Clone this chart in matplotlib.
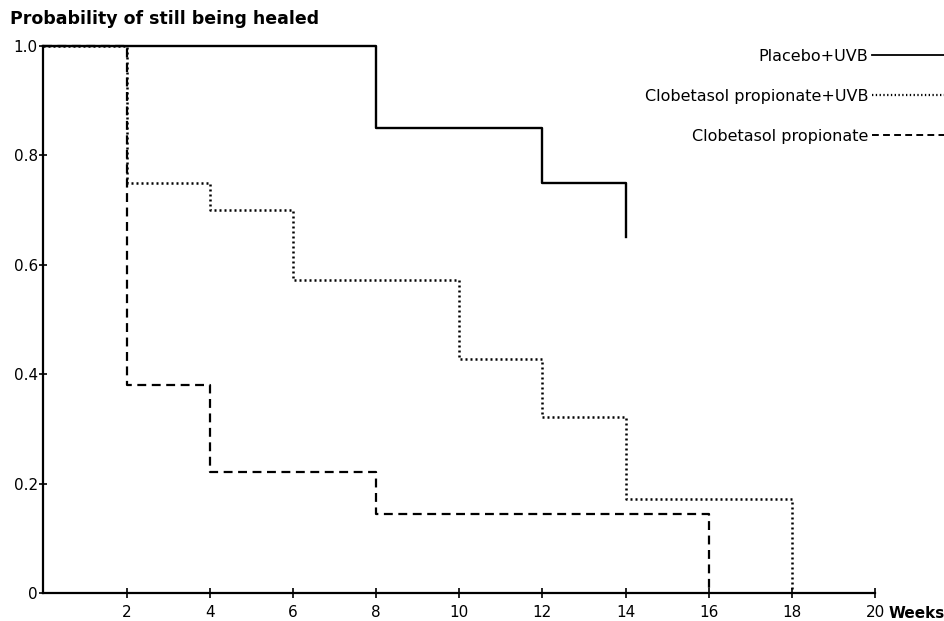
import matplotlib
matplotlib.use("Agg")
import matplotlib.pyplot as plt
from matplotlib.lines import Line2D

# Kaplan-Meier style steps
weeks_placebo = [0, 8, 12, 14]
healed_placebo = [1.0, 0.85, 0.75, 0.65]

weeks_clob_uvb = [0, 2, 4, 6, 10, 12, 14, 18]
healed_clob_uvb = [1.0, 0.75, 0.70, 0.572, 0.428, 0.322, 0.172, 0.0]

weeks_clob = [0, 2, 4, 8, 16]
healed_clob = [1.0, 0.38, 0.221, 0.145, 0.0]

series_labels = ["Placebo+UVB", "Clobetasol propionate+UVB", "Clobetasol propionate"]
x_ticks = [2, 4, 6, 8, 10, 12, 14, 16, 18, 20]
y_ticks = [0, 0.2, 0.4, 0.6, 0.8, 1.0]
y_tick_labels = ["0", "0.2", "0.4", "0.6", "0.8", "1.0"]

plt.rcParams["font.family"] = "DejaVu Sans"

fig = plt.figure(figsize=(9.45, 6.21), dpi=100)
ax = fig.add_axes([0.046, 0.045, 0.880, 0.881])

ax.step(weeks_placebo, healed_placebo, where="post", color="black",
        linewidth=1.7, clip_on=False, zorder=3)
ax.step(weeks_clob_uvb, healed_clob_uvb, where="post", color="black",
        linewidth=1.8, linestyle=(0, (0.8, 1.2)), clip_on=False)
ax.step(weeks_clob, healed_clob, where="post", color="black",
        linewidth=1.6, linestyle=(0, (4, 2.5)), clip_on=False)

ax.set_xlim(0, 20)
ax.set_ylim(0, 1.0)
ax.set_xticks(x_ticks)
ax.set_yticks(y_ticks)
ax.set_yticklabels(y_tick_labels)

for side in ["top", "right"]:
    ax.spines[side].set_visible(False)
for side in ["left", "bottom"]:
    ax.spines[side].set_linewidth(1.6)

ax.tick_params(axis="x", direction="inout", length=7, width=1.2, pad=5, labelsize=11)
ax.tick_params(axis="y", direction="inout", length=6, width=1.2, pad=1, labelsize=11)

fig.text(10 / 945, 1 - 19 / 621, "Probability of still being healed",
         fontsize=12.5, fontweight="bold", va="center", ha="left")
fig.text(889 / 945, 1 - 613 / 621, "Weeks", fontsize=11, fontweight="bold",
         va="center", ha="left")

handles = [Line2D([], [], color="black", linewidth=1.3),
           Line2D([], [], color="black", linewidth=1.6, linestyle=(0, (0.6, 1.1))),
           Line2D([], [], color="black", linewidth=1.4, linestyle=(0, (3.5, 2.2)))]
fig.legend(handles, series_labels, loc="upper right", bbox_to_anchor=(1.0, 1 - 49 / 621),
           frameon=False, markerfirst=False, alignment="right", fontsize=11.5,
           handlelength=4.6, handletextpad=0.2, labelspacing=1.55,
           borderpad=0, borderaxespad=0)

fig.savefig("out.png", dpi=100)
plt.close(fig)
